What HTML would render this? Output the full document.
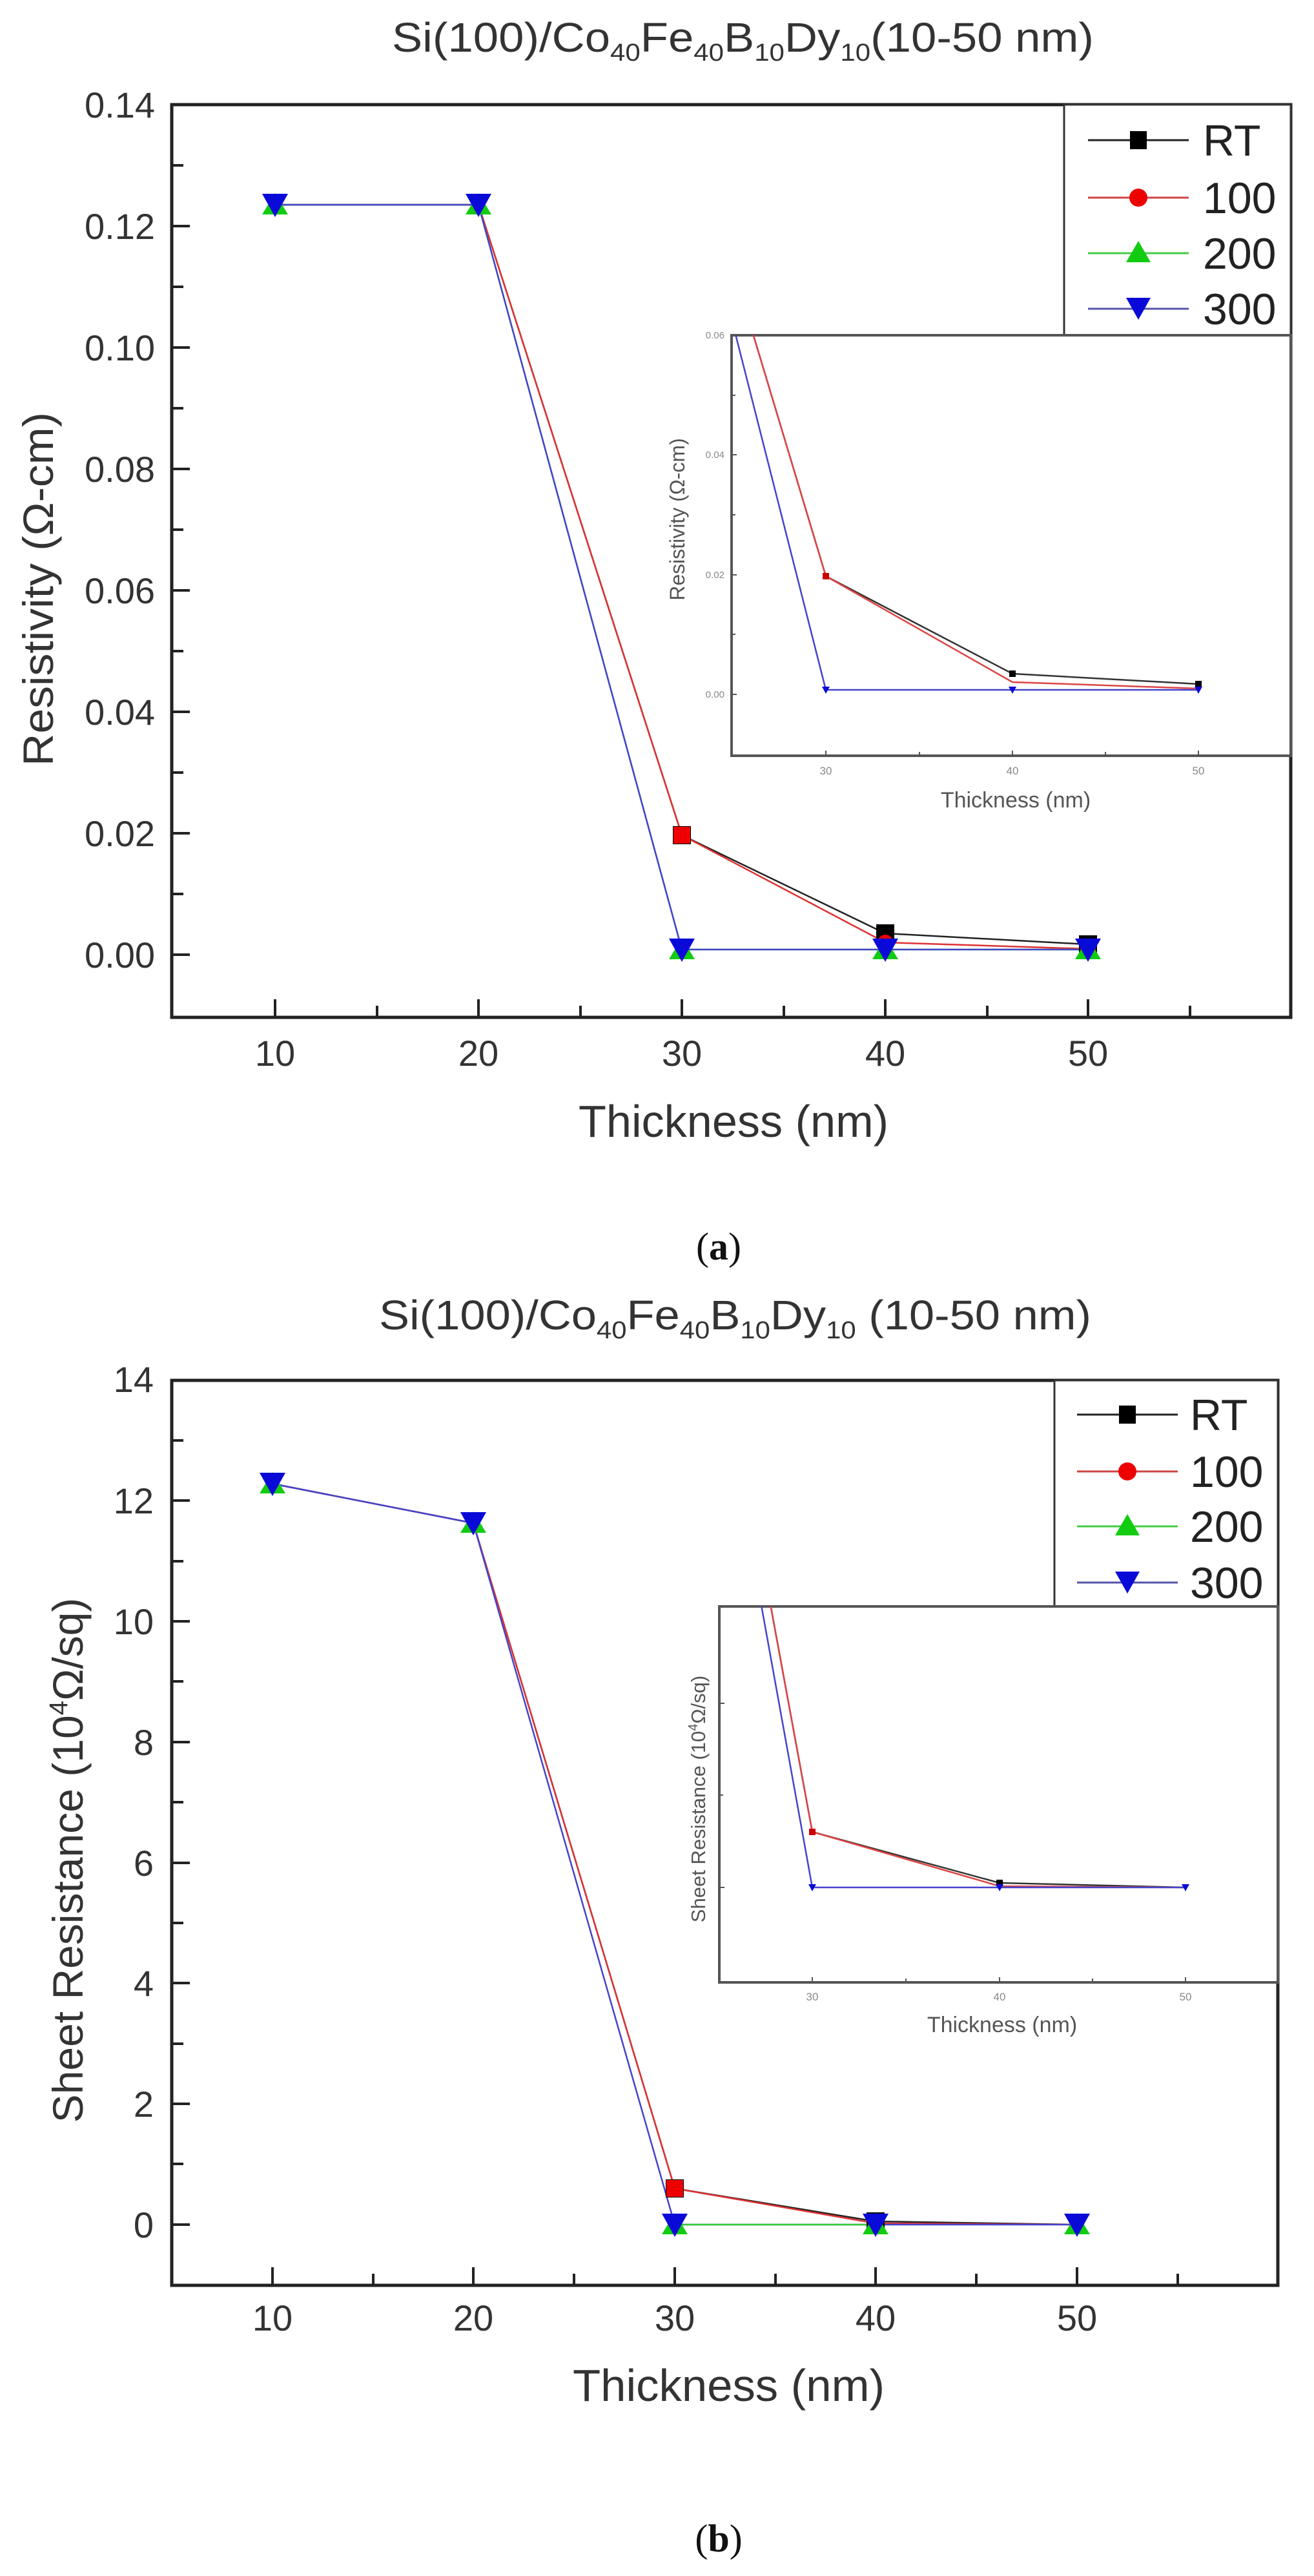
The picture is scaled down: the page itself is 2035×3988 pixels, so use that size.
<!DOCTYPE html>
<html><head><meta charset="utf-8"><style>
html,body{margin:0;padding:0;background:#fff}
svg{display:block}
text{font-family:"Liberation Sans",sans-serif}
</style></head><body>
<svg width="2035" height="3988" viewBox="0 0 2035 3988" xmlns="http://www.w3.org/2000/svg">
<defs>
<clipPath id="ca"><rect x="1133" y="519" width="866" height="651"/></clipPath>
<clipPath id="cb"><rect x="1114" y="2487" width="865" height="582"/></clipPath>
</defs>

<!-- ============ CHART A ============ -->
<text x="607" y="80" font-size="64" fill="#333" textLength="1087" lengthAdjust="spacingAndGlyphs">Si(100)/Co<tspan font-size="38" dy="14">40</tspan><tspan dy="-14">Fe</tspan><tspan font-size="38" dy="14">40</tspan><tspan dy="-14">B</tspan><tspan font-size="38" dy="14">10</tspan><tspan dy="-14">Dy</tspan><tspan font-size="38" dy="14">10</tspan><tspan dy="-14">(10-50 nm)</tspan></text>

<rect x="266" y="162" width="1733" height="1413" fill="none" stroke="#222" stroke-width="5"/>
<g stroke="#222" stroke-width="4">
<line x1="266" y1="162" x2="294" y2="162"/><line x1="266" y1="256" x2="284" y2="256"/>
<line x1="266" y1="350" x2="294" y2="350"/><line x1="266" y1="444" x2="284" y2="444"/>
<line x1="266" y1="538" x2="294" y2="538"/><line x1="266" y1="632" x2="284" y2="632"/>
<line x1="266" y1="726" x2="294" y2="726"/><line x1="266" y1="820" x2="284" y2="820"/>
<line x1="266" y1="914" x2="294" y2="914"/><line x1="266" y1="1008" x2="284" y2="1008"/>
<line x1="266" y1="1102" x2="294" y2="1102"/><line x1="266" y1="1196" x2="284" y2="1196"/>
<line x1="266" y1="1290" x2="294" y2="1290"/><line x1="266" y1="1384" x2="284" y2="1384"/>
<line x1="266" y1="1478" x2="294" y2="1478"/>
<line x1="426" y1="1575" x2="426" y2="1547"/><line x1="584" y1="1575" x2="584" y2="1557"/>
<line x1="741" y1="1575" x2="741" y2="1547"/><line x1="899" y1="1575" x2="899" y2="1557"/>
<line x1="1056" y1="1575" x2="1056" y2="1547"/><line x1="1214" y1="1575" x2="1214" y2="1557"/>
<line x1="1371" y1="1575" x2="1371" y2="1547"/><line x1="1529" y1="1575" x2="1529" y2="1557"/>
<line x1="1685" y1="1575" x2="1685" y2="1547"/><line x1="1843" y1="1575" x2="1843" y2="1557"/>
</g>
<g font-size="56" fill="#333" text-anchor="end">
<text x="240" y="182">0.14</text><text x="240" y="370">0.12</text><text x="240" y="558">0.10</text>
<text x="240" y="746">0.08</text><text x="240" y="934">0.06</text><text x="240" y="1122">0.04</text>
<text x="240" y="1310">0.02</text><text x="240" y="1498">0.00</text>
</g>
<g font-size="56" fill="#333" text-anchor="middle">
<text x="426" y="1650">10</text><text x="741" y="1650">20</text><text x="1056" y="1650">30</text>
<text x="1371" y="1650">40</text><text x="1685" y="1650">50</text>
</g>
<text x="896" y="1760" font-size="70" fill="#333" textLength="480" lengthAdjust="spacingAndGlyphs">Thickness (nm)</text>
<text transform="translate(82,912) rotate(-90)" x="-274" font-size="66" fill="#333" textLength="548" lengthAdjust="spacingAndGlyphs">Resistivity (Ω-cm)</text>

<!-- series A -->
<g fill="none" stroke-width="2.5">
<polyline stroke="#222" points="426,317 741,317 1056,1293 1371,1445 1685,1462"/>
<polyline stroke="#d33" points="426,317 741,317 1056,1293 1371,1459 1685,1469"/>
<polyline stroke="#3c3" points="426,317 741,317 1056,1470 1371,1470 1685,1470"/>
<polyline stroke="#44c" points="426,317 741,317 1056,1470 1371,1470 1685,1470"/>
</g>
<g>
<rect x="1042" y="1279" width="28" height="28" fill="#000"/><rect x="1357" y="1431" width="28" height="28" fill="#000"/><rect x="1671" y="1448" width="28" height="28" fill="#000"/>
<rect x="1043" y="1280" width="26" height="26" fill="#e00"/>
<circle cx="1371" cy="1459" r="12" fill="#e00"/><circle cx="1685" cy="1469" r="12" fill="#e00"/>
</g>
<g fill="#1c1">
<polygon points="426,299 446,332 406,332"/><polygon points="741,299 761,332 721,332"/>
<polygon points="1056,1452 1076,1485 1036,1485"/><polygon points="1371,1452 1391,1485 1351,1485"/><polygon points="1685,1452 1705,1485 1665,1485"/>
</g>
<g fill="#0a0ad8">
<polygon points="406,300 446,300 426,336"/><polygon points="721,300 761,300 741,336"/>
<polygon points="1036,1453 1076,1453 1056,1489"/><polygon points="1351,1453 1391,1453 1371,1489"/><polygon points="1665,1453 1705,1453 1685,1489"/>
</g>

<!-- legend A -->
<rect x="1648" y="162" width="351" height="357" fill="#fff" stroke="#333" stroke-width="3"/>
<g stroke-width="3">
<line x1="1685" y1="217" x2="1841" y2="217" stroke="#222"/>
<line x1="1685" y1="306" x2="1841" y2="306" stroke="#c44"/>
<line x1="1685" y1="392" x2="1841" y2="392" stroke="#4c4"/>
<line x1="1685" y1="478" x2="1841" y2="478" stroke="#55a"/>
</g>
<rect x="1750" y="203" width="26" height="28" fill="#000"/>
<circle cx="1763" cy="306" r="14" fill="#e00"/>
<polygon points="1763,373 1782,406 1744,406" fill="#1c1"/>
<polygon points="1744,461 1782,461 1763,495" fill="#0a0ad8"/>
<g font-size="68" fill="#222">
<text x="1863" y="241">RT</text><text x="1863" y="330">100</text><text x="1863" y="416">200</text><text x="1863" y="502">300</text>
</g>

<!-- inset A -->
<rect x="1133" y="519" width="866" height="651" fill="#fff" stroke="#555" stroke-width="4"/>
<g stroke="#555" stroke-width="2">
<line x1="1133" y1="519" x2="1141" y2="519"/><line x1="1133" y1="612" x2="1139" y2="612"/>
<line x1="1133" y1="704" x2="1141" y2="704"/><line x1="1133" y1="797" x2="1139" y2="797"/>
<line x1="1133" y1="890" x2="1141" y2="890"/><line x1="1133" y1="982" x2="1139" y2="982"/>
<line x1="1133" y1="1075" x2="1141" y2="1075"/>
<line x1="1279" y1="1170" x2="1279" y2="1162"/><line x1="1424" y1="1170" x2="1424" y2="1164"/>
<line x1="1568" y1="1170" x2="1568" y2="1162"/><line x1="1712" y1="1170" x2="1712" y2="1164"/>
<line x1="1856" y1="1170" x2="1856" y2="1162"/>
</g>
<g font-size="15" fill="#888" text-anchor="end">
<text x="1122" y="524">0.06</text><text x="1122" y="709">0.04</text><text x="1122" y="895">0.02</text><text x="1122" y="1080">0.00</text>
</g>
<g font-size="17" fill="#888" text-anchor="middle">
<text x="1279" y="1199">30</text><text x="1568" y="1199">40</text><text x="1856" y="1199">50</text>
</g>
<text x="1573" y="1250" font-size="34" fill="#555" text-anchor="middle">Thickness (nm)</text>
<text transform="translate(1060,804) rotate(-90)" font-size="32" fill="#555" text-anchor="middle">Resistivity (Ω-cm)</text>
<g clip-path="url(#ca)" fill="none" stroke-width="2.5">
<polyline stroke="#333" points="990,-69 1279,892 1568,1043 1856,1059"/>
<polyline stroke="#d44" points="990,-69 1279,892 1568,1056 1856,1066"/>
<polyline stroke="#44c" points="990,-69 1279,1068 1568,1068 1856,1068"/>
</g>
<rect x="1274" y="887" width="10" height="10" fill="#c00"/>
<rect x="1563" y="1038" width="10" height="10" fill="#000"/><rect x="1851" y="1054" width="10" height="10" fill="#000"/>
<g fill="#0a0ad8">
<polygon points="1273,1063 1285,1063 1279,1074"/><polygon points="1562,1063 1574,1063 1568,1074"/><polygon points="1850,1063 1862,1063 1856,1074"/>
</g>

<text x="1113" y="1950" font-size="60" fill="#111" text-anchor="middle" style="font-family:'Liberation Serif',serif">(<tspan font-weight="bold">a</tspan>)</text>

<!-- ============ CHART B ============ -->
<text x="587" y="2058" font-size="64" fill="#333" textLength="1103" lengthAdjust="spacingAndGlyphs">Si(100)/Co<tspan font-size="38" dy="14">40</tspan><tspan dy="-14">Fe</tspan><tspan font-size="38" dy="14">40</tspan><tspan dy="-14">B</tspan><tspan font-size="38" dy="14">10</tspan><tspan dy="-14">Dy</tspan><tspan font-size="38" dy="14">10</tspan><tspan dy="-14"> (10-50 nm)</tspan></text>

<rect x="266" y="2137" width="1713" height="1401" fill="none" stroke="#222" stroke-width="5"/>
<g stroke="#222" stroke-width="4">
<line x1="266" y1="2137" x2="294" y2="2137"/><line x1="266" y1="2230" x2="284" y2="2230"/>
<line x1="266" y1="2323" x2="294" y2="2323"/><line x1="266" y1="2417" x2="284" y2="2417"/>
<line x1="266" y1="2510" x2="294" y2="2510"/><line x1="266" y1="2603" x2="284" y2="2603"/>
<line x1="266" y1="2697" x2="294" y2="2697"/><line x1="266" y1="2790" x2="284" y2="2790"/>
<line x1="266" y1="2884" x2="294" y2="2884"/><line x1="266" y1="2977" x2="284" y2="2977"/>
<line x1="266" y1="3070" x2="294" y2="3070"/><line x1="266" y1="3164" x2="284" y2="3164"/>
<line x1="266" y1="3257" x2="294" y2="3257"/><line x1="266" y1="3350" x2="284" y2="3350"/>
<line x1="266" y1="3444" x2="294" y2="3444"/>
<line x1="422" y1="3538" x2="422" y2="3510"/><line x1="578" y1="3538" x2="578" y2="3520"/>
<line x1="733" y1="3538" x2="733" y2="3510"/><line x1="889" y1="3538" x2="889" y2="3520"/>
<line x1="1045" y1="3538" x2="1045" y2="3510"/><line x1="1201" y1="3538" x2="1201" y2="3520"/>
<line x1="1356" y1="3538" x2="1356" y2="3510"/><line x1="1512" y1="3538" x2="1512" y2="3520"/>
<line x1="1668" y1="3538" x2="1668" y2="3510"/><line x1="1824" y1="3538" x2="1824" y2="3520"/>
</g>
<g font-size="56" fill="#333" text-anchor="end">
<text x="238" y="2155">14</text><text x="238" y="2343">12</text><text x="238" y="2530">10</text>
<text x="238" y="2717">8</text><text x="238" y="2904">6</text><text x="238" y="3090">4</text>
<text x="238" y="3277">2</text><text x="238" y="3464">0</text>
</g>
<g font-size="56" fill="#333" text-anchor="middle">
<text x="422" y="3608">10</text><text x="733" y="3608">20</text><text x="1045" y="3608">30</text>
<text x="1356" y="3608">40</text><text x="1668" y="3608">50</text>
</g>
<text x="887" y="3717" font-size="70" fill="#333" textLength="483" lengthAdjust="spacingAndGlyphs">Thickness (nm)</text>
<text transform="translate(128,2880) rotate(-90)" font-size="66" fill="#333" text-anchor="middle">Sheet Resistance (10<tspan font-size="40" dy="-24">4</tspan><tspan dy="24">Ω/sq)</tspan></text>

<g fill="none" stroke-width="2.5">
<polyline stroke="#222" points="422,2297 733,2358 1045,3388 1356,3439 1668,3444"/>
<polyline stroke="#d33" points="422,2297 733,2358 1045,3388 1356,3442 1668,3444"/>
<polyline stroke="#44c" points="422,2297 733,2358 1045,3444 1356,3444 1668,3444"/>
<polyline stroke="#3c3" points="1045,3444 1356,3444"/>
</g>
<rect x="1031" y="3374" width="28" height="28" fill="#000"/>
<rect x="1032" y="3375" width="26" height="26" fill="#e00"/>
<rect x="1342" y="3425" width="28" height="28" fill="#000"/>
<g fill="#1c1">
<polygon points="422,2279 442,2312 402,2312"/><polygon points="733,2340 753,2373 713,2373"/>
<polygon points="1045,3426 1065,3459 1025,3459"/><polygon points="1356,3426 1376,3459 1336,3459"/><polygon points="1668,3426 1688,3459 1648,3459"/>
</g>
<g fill="#0a0ad8">
<polygon points="402,2280 442,2280 422,2316"/><polygon points="713,2341 753,2341 733,2377"/>
<polygon points="1025,3427 1065,3427 1045,3463"/><polygon points="1336,3427 1376,3427 1356,3463"/><polygon points="1648,3427 1688,3427 1668,3463"/>
</g>

<!-- legend B -->
<rect x="1633" y="2137" width="346" height="350" fill="#fff" stroke="#333" stroke-width="3"/>
<g stroke-width="3">
<line x1="1668" y1="2190" x2="1824" y2="2190" stroke="#222"/>
<line x1="1668" y1="2278" x2="1824" y2="2278" stroke="#c44"/>
<line x1="1668" y1="2363" x2="1824" y2="2363" stroke="#4c4"/>
<line x1="1668" y1="2450" x2="1824" y2="2450" stroke="#55a"/>
</g>
<rect x="1733" y="2176" width="26" height="28" fill="#000"/>
<circle cx="1746" cy="2278" r="14" fill="#e00"/>
<polygon points="1746,2344 1765,2377 1727,2377" fill="#1c1"/>
<polygon points="1727,2433 1765,2433 1746,2467" fill="#0a0ad8"/>
<g font-size="68" fill="#222">
<text x="1843" y="2214">RT</text><text x="1843" y="2302">100</text><text x="1843" y="2387">200</text><text x="1843" y="2474">300</text>
</g>

<!-- inset B -->
<rect x="1114" y="2487" width="865" height="582" fill="#fff" stroke="#555" stroke-width="4"/>
<g stroke="#555" stroke-width="2">
<line x1="1114" y1="2637" x2="1122" y2="2637"/><line x1="1114" y1="2779" x2="1120" y2="2779"/>
<line x1="1114" y1="2922" x2="1122" y2="2922"/>
<line x1="1258" y1="3069" x2="1258" y2="3061"/><line x1="1403" y1="3069" x2="1403" y2="3063"/>
<line x1="1548" y1="3069" x2="1548" y2="3061"/><line x1="1692" y1="3069" x2="1692" y2="3063"/>
<line x1="1836" y1="3069" x2="1836" y2="3061"/>
</g>
<g font-size="17" fill="#888" text-anchor="middle">
<text x="1258" y="3097">30</text><text x="1548" y="3097">40</text><text x="1836" y="3097">50</text>
</g>
<text x="1552" y="3146" font-size="34" fill="#555" text-anchor="middle">Thickness (nm)</text>
<text transform="translate(1092,2785) rotate(-90)" font-size="31" fill="#555" text-anchor="middle">Sheet Resistance (10<tspan font-size="20" dy="-12">4</tspan><tspan dy="12">Ω/sq)</tspan></text>
<g clip-path="url(#cb)" fill="none" stroke-width="2.5">
<polyline stroke="#333" points="968,1262 1258,2836 1548,2915 1836,2922"/>
<polyline stroke="#d44" points="968,1262 1258,2836 1548,2920 1836,2922"/>
<polyline stroke="#44c" points="958,1262 1258,2922 1548,2922 1836,2922"/>
</g>
<rect x="1253" y="2831" width="10" height="10" fill="#c00"/>
<rect x="1543" y="2910" width="10" height="10" fill="#000"/>
<g fill="#0a0ad8">
<polygon points="1252,2917 1264,2917 1258,2928"/><polygon points="1542,2917 1554,2917 1548,2928"/><polygon points="1830,2917 1842,2917 1836,2928"/>
</g>

<text x="1113" y="3950" font-size="60" fill="#111" text-anchor="middle" style="font-family:'Liberation Serif',serif">(<tspan font-weight="bold">b</tspan>)</text>
</svg>
</body></html>
